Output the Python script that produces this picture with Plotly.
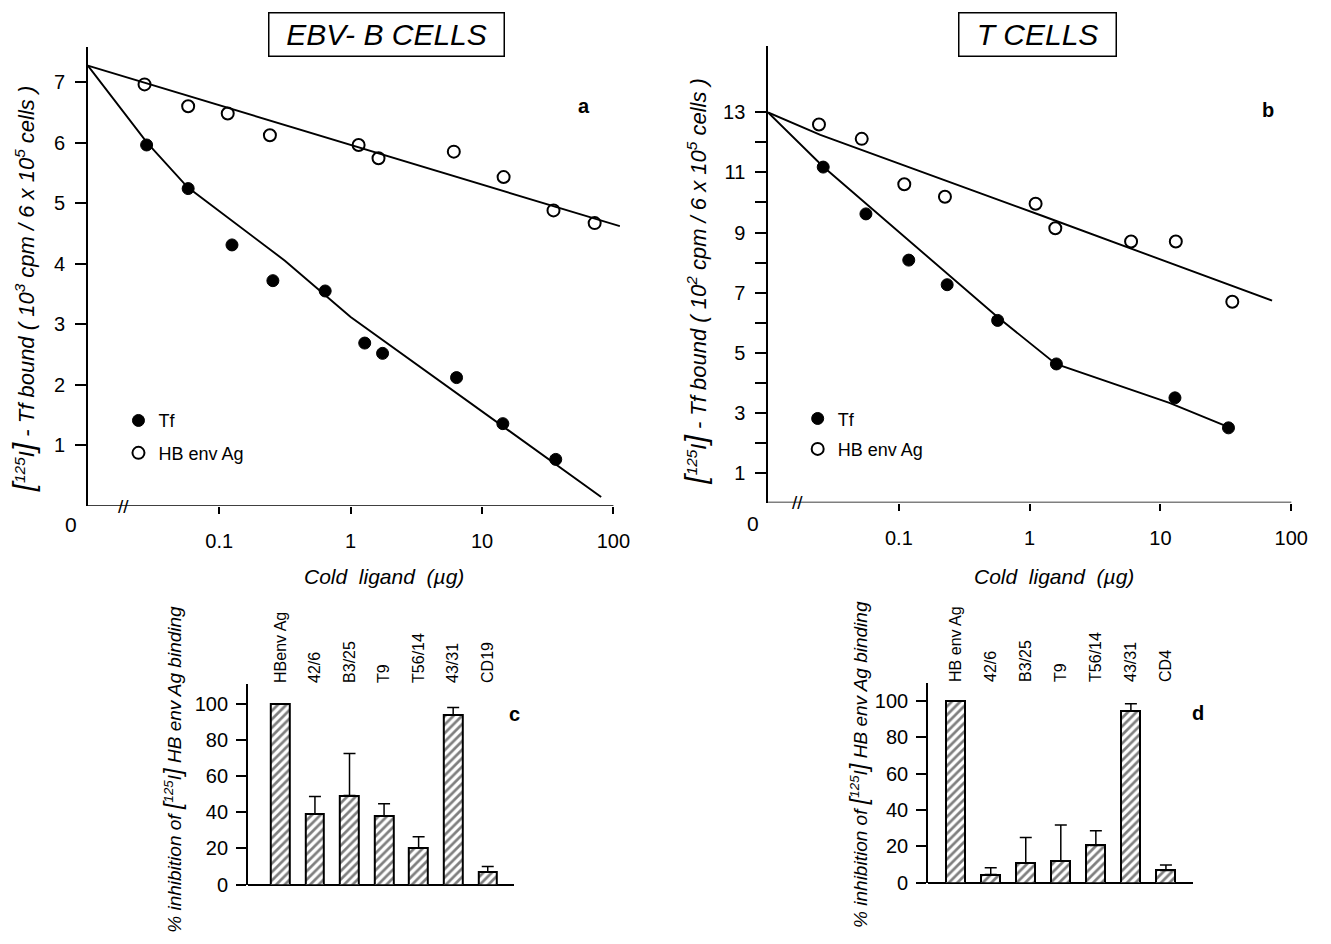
import plotly.graph_objects as go

W, H = 1331, 944
FONT = "Liberation Sans, Arial, sans-serif"

# ---------------- data ----------------
# x = cold ligand (µg); 0.01 is the axis origin drawn as "0" after the axis break
ORIGIN = 0.01
tick_vals_x = [0.1, 1, 10, 100]
tick_text_x = ["0.1", "1", "10", "100"]

# Panel a: EBV-B cells, [125I]-Tf bound (10^3 cpm / 6x10^5 cells)
a_tf_x = [0.028, 0.058, 0.125, 0.256, 0.64, 1.28, 1.75, 6.4, 14.4, 36.4]
a_tf_y = [5.96, 5.24, 4.31, 3.72, 3.55, 2.69, 2.52, 2.12, 1.36, 0.77]
a_hb_x = [0.027, 0.058, 0.116, 0.243, 1.15, 1.63, 6.1, 14.6, 35, 72]
a_hb_y = [6.96, 6.60, 6.48, 6.12, 5.96, 5.74, 5.85, 5.43, 4.88, 4.67]
a_tf_fit_x = [ORIGIN, 0.0282, 0.0575, 0.316, 1.0, 80.7]
a_tf_fit_y = [7.27, 6.0, 5.26, 4.05, 3.12, 0.15]
a_hb_fit_x = [ORIGIN, 112]
a_hb_fit_y = [7.27, 4.62]
a_yticks = [1, 2, 3, 4, 5, 6, 7]

# Panel b: T cells, [125I]-Tf bound (10^2 cpm / 6x10^5 cells)
b_tf_x = [0.0264, 0.056, 0.119, 0.234, 0.569, 1.60, 12.9, 33.1]
b_tf_y = [11.18, 9.62, 8.08, 7.26, 6.07, 4.62, 3.49, 2.49]
b_hb_x = [0.0245, 0.052, 0.110, 0.225, 1.11, 1.57, 5.96, 13.1, 35.4]
b_hb_y = [12.60, 12.12, 10.61, 10.19, 9.96, 9.14, 8.70, 8.70, 6.69]
b_tf_fit_x = [ORIGIN, 0.0263, 0.562, 1.585, 11.7, 33.9]
b_tf_fit_y = [13.0, 11.2, 6.2, 4.62, 3.32, 2.5]
b_hb_fit_x = [ORIGIN, 0.0251, 1.259, 71.3]
b_hb_fit_y = [13.0, 12.25, 9.55, 6.73]
b_yticks = [1, 3, 5, 7, 9, 11, 13]
b_yminor = [2, 4, 6, 8, 10, 12]

# Panel c / d: % inhibition of [125I] HB env Ag binding
c_cats = ["HBenv Ag", "42/6", "B3/25", "T9", "T56/14", "43/31", "CD19"]
c_vals = [100, 39, 49.3, 38, 20.4, 94, 7]
c_err = [0, 9.7, 23.2, 6.7, 6.1, 4, 3]
d_cats = ["HB env Ag", "42/6", "B3/25", "T9", "T56/14", "43/31", "CD4"]
d_vals = [100, 4.4, 10.8, 11.7, 20.5, 94.5, 6.7]
d_err = [0, 3.8, 14, 20, 8, 4, 3]
bar_yticks = [0, 20, 40, 60, 80, 100]


def px_x(p):
    return p / W


def px_y(p):
    return 1 - p / H


fig = go.Figure()

# ---- line panels ----
def add_line_panel(xa, ya, leg, tf_x, tf_y, hb_x, hb_y, tfx, tfy, hbx, hby):
    fig.add_trace(go.Scatter(x=tfx, y=tfy, mode="lines", line=dict(color="black", width=1.9),
                             xaxis=xa, yaxis=ya, showlegend=False, hoverinfo="skip"))
    fig.add_trace(go.Scatter(x=hbx, y=hby, mode="lines", line=dict(color="black", width=1.9),
                             xaxis=xa, yaxis=ya, showlegend=False, hoverinfo="skip"))
    fig.add_trace(go.Scatter(x=tf_x, y=tf_y, mode="markers", name="Tf", legend=leg,
                             legendgroup=leg + "tf",
                             marker=dict(symbol="circle", size=12, color="black",
                                         line=dict(color="black", width=1)),
                             xaxis=xa, yaxis=ya))
    fig.add_trace(go.Scatter(x=hb_x, y=hb_y, mode="markers", name="HB env Ag", legend=leg,
                             legendgroup=leg + "hb",
                             marker=dict(symbol="circle-open", size=12, color="black",
                                         line=dict(color="black", width=2)),
                             xaxis=xa, yaxis=ya))


add_line_panel("x", "y", "legend", a_tf_x, a_tf_y, a_hb_x, a_hb_y,
               a_tf_fit_x, a_tf_fit_y, a_hb_fit_x, a_hb_fit_y)
add_line_panel("x2", "y2", "legend2", b_tf_x, b_tf_y, b_hb_x, b_hb_y,
               b_tf_fit_x, b_tf_fit_y, b_hb_fit_x, b_hb_fit_y)

# ---- bar panels ----
def add_bar_panel(xa, ya, cats, vals, err):
    fig.add_trace(go.Bar(x=cats, y=vals, width=0.54, xaxis=xa, yaxis=ya, showlegend=False,
                         marker=dict(color="white", line=dict(color="black", width=2),
                                     pattern=dict(shape="/", fgcolor="black", bgcolor="white",
                                                  size=6, solidity=0.45)),
                         error_y=dict(type="data", symmetric=False, array=err,
                                      arrayminus=[0] * len(err), color="black",
                                      thickness=1.5, width=6)))


add_bar_panel("x3", "y3", c_cats, c_vals, c_err)
add_bar_panel("x4", "y4", d_cats, d_vals, d_err)

tickfont = dict(family=FONT, size=20, color="black")

line_x_common = dict(type="log", showline=False, showgrid=False, zeroline=False,
                     ticks="outside", ticklen=7, tickwidth=1.5, tickcolor="black",
                     tickvals=tick_vals_x, ticktext=tick_text_x, tickfont=tickfont,
                     ticklabelstandoff=10)
line_y_common = dict(showline=True, linecolor="black", linewidth=1.5, showgrid=False,
                     zeroline=False, ticks="outside", ticklen=11, tickwidth=1.5,
                     tickcolor="black", tickfont=tickfont, ticklabelstandoff=6)

bar_x_common = dict(type="category", side="top", showline=False, showgrid=False,
                    zeroline=False, ticks="", tickangle=-90,
                    tickfont=dict(family=FONT, size=16, color="black"))
bar_y_common = dict(showline=True, linecolor="black", linewidth=1.5, showgrid=False,
                    zeroline=True, zerolinecolor="black", zerolinewidth=2,
                    ticks="outside", ticklen=10, tickwidth=1.5, tickcolor="black",
                    tickvals=bar_yticks, tickfont=tickfont, ticklabelstandoff=4)

fig.update_layout(
    width=W, height=H, margin=dict(l=0, r=0, t=0, b=0),
    paper_bgcolor="white", plot_bgcolor="white",
    font=dict(family=FONT, color="black"),
    xaxis=dict(domain=[px_x(89), px_x(628)], range=[-2, 2.05], anchor="y", **line_x_common),
    yaxis=dict(domain=[px_y(512), px_y(48)], range=[0, 7.57], anchor="x",
               tickvals=a_yticks, **line_y_common),
    xaxis2=dict(domain=[px_x(778), px_x(1308)], range=[-2, 2], anchor="y2", **line_x_common),
    yaxis2=dict(domain=[px_y(508.5), px_y(47)], range=[0, 15.2], anchor="x2",
                tickvals=b_yticks,
                minor=dict(tickvals=b_yminor, ticks="outside", ticklen=11, tickwidth=1.5,
                           tickcolor="black", showgrid=False),
                **line_y_common),
    xaxis3=dict(domain=[px_x(251), px_x(521)], range=[-0.943, 6.77], anchor="y3",
                **bar_x_common),
    yaxis3=dict(domain=[px_y(895), px_y(692)], range=[0, 111], anchor="x3", **bar_y_common),
    xaxis4=dict(domain=[px_x(940), px_x(1208)], range=[-0.79, 6.76], anchor="y4",
                **bar_x_common),
    yaxis4=dict(domain=[px_y(893), px_y(691)], range=[0, 110], anchor="x4", **bar_y_common),
    legend=dict(x=px_x(120), y=px_y(407), xanchor="left", yanchor="top",
                bgcolor="rgba(0,0,0,0)", font=dict(family=FONT, size=18, color="black"),
                tracegroupgap=6, itemsizing="trace"),
    legend2=dict(x=px_x(808), y=px_y(405), xanchor="left", yanchor="top",
                 bgcolor="rgba(0,0,0,0)", font=dict(family=FONT, size=18, color="black"),
                 tracegroupgap=4, itemsizing="trace"),
    bargap=0,
)

# x-axis lines for the line panels (from the origin to 100)
fig.add_shape(type="line", xref="x domain", yref="y", x0=0, x1=4 / 4.05, y0=0, y1=0,
              line=dict(color="black", width=1.5))
fig.add_shape(type="line", xref="x2 domain", yref="y2", x0=0, x1=1, y0=0, y1=0,
              line=dict(color="black", width=1.5))


def ann(x, y, text, size=20, italic=False, bold=False, angle=0, **kw):
    f = dict(family=FONT, size=size, color="black")
    if italic:
        f["style"] = "italic"
    if bold:
        f["weight"] = "bold"
    fig.add_annotation(x=px_x(x), y=px_y(y), xref="paper", yref="paper", text=text,
                       showarrow=False, font=f, textangle=angle,
                       xanchor="center", yanchor="middle", **kw)


# panel titles in boxes
ann(392, 34.5, "EBV- B CELLS", size=30, italic=True, bordercolor="black", borderwidth=1.5,
    width=232, height=40, borderpad=1)
ann(1051, 34.5, "T CELLS", size=30, italic=True, bordercolor="black", borderwidth=1.5,
    width=154, height=40, borderpad=1)

# panel letters
ann(592, 107, "a", size=20, bold=True)
ann(1284, 111, "b", size=20, bold=True)
ann(521, 722, "c", size=20, bold=True)
ann(1213, 721, "d", size=20, bold=True)

# origin "0" labels and axis breaks
ann(72, 531, "0", size=21)
ann(763, 530, "0", size=21)
ann(125, 512, "//", size=19)
ann(808, 508, "//", size=19)

# axis titles
ann(389, 583, "Cold  ligand  (µg)", size=21, italic=True)
ann(1068, 583, "Cold  ligand  (µg)", size=21, italic=True)
big = '<span style="font-size:30px">'
ann(24, 292, big + "[</span><sup>125</sup>I" + big + "]</span> - Tf bound ( 10<sup>3</sup> cpm / 6 x 10<sup>5</sup> cells )",
    size=22, italic=True, angle=-90)
ann(705, 284, big + "[</span><sup>125</sup>I" + big + "]</span> - Tf bound ( 10<sup>2</sup> cpm / 6 x 10<sup>5</sup> cells )",
    size=22, italic=True, angle=-90)
sb = '<span style="font-size:24px">'
ann(175, 778, "% inhibition of " + sb + "[</span><sup>125</sup>I"
    + sb + "]</span> HB env Ag binding", size=19, italic=True, angle=-90)
ann(870, 773, "% inhibition of " + sb + "[</span><sup>125</sup>I"
    + sb + "]</span> HB env Ag binding", size=19, italic=True, angle=-90)

fig.write_html("out.html")
